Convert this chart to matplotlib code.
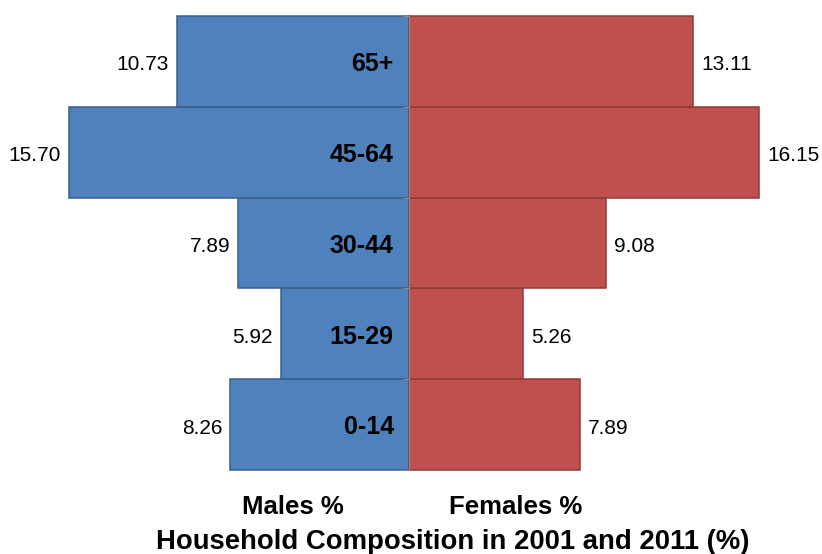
import matplotlib.pyplot as plt
import numpy as np

plt.rcParams['font.family'] = ['Liberation Sans', 'DejaVu Sans']

# data (bottom to top)
ages = ['0-14', '15-29', '30-44', '45-64', '65+']
males = [8.26, 5.92, 7.89, 15.70, 10.73]
females = [7.89, 5.26, 9.08, 16.15, 13.11]

blue = '#4F81BD'
red = '#C0504D'

fig = plt.figure(figsize=(8.22, 5.54), dpi=100)
ax = fig.add_axes([0, 0, 1, 1])

y = np.arange(len(ages))
m = -np.array(males)
f = np.array(females)

ax.barh(y, m, height=1.0, color=blue, edgecolor='#3A5F8C', linewidth=1.1)
ax.barh(y, f, height=1.0, color=red, edgecolor='#8E3B38', linewidth=1.1)

for i in range(len(ages)):
    ax.annotate('%.2f' % males[i], (m[i], y[i]), xytext=(-5.5, -2.5),
                textcoords='offset points', ha='right', va='center',
                fontsize=15)
    ax.annotate('%.2f' % females[i], (f[i], y[i]), xytext=(6, -2.5),
                textcoords='offset points', ha='left', va='center',
                fontsize=15)
    ax.annotate(ages[i], (0, y[i]), xytext=(-11, -2),
                textcoords='offset points', ha='right', va='center',
                fontsize=18, fontweight='bold')

# grey centre axis with small ticks at category boundaries
ax.spines['left'].set_position(('data', 0))
ax.spines['left'].set_color('#8C8C8C')
for s in ['right', 'top', 'bottom']:
    ax.spines[s].set_visible(False)
ax.set_yticks(np.arange(-0.5, len(ages), 1.0))
ax.set_yticklabels([])
ax.tick_params(axis='y', direction='out', length=4, color='#8C8C8C')
ax.set_xticks([])
ax.spines['left'].set_bounds(-0.5, len(ages) - 0.5)

ax.set_xlim(-18.88, 19.07)
ax.set_ylim(-1.425, 4.676)

fig.text(293 / 822, 1 - 507 / 554, 'Males %', ha='center', va='center',
         fontsize=18.5, fontweight='bold')
fig.text(516 / 822, 1 - 507 / 554, 'Females %', ha='center', va='center',
         fontsize=18.5, fontweight='bold')
fig.text(453 / 822, 1 - 542 / 554, 'Household Composition in 2001 and 2011 (%)',
         ha='center', va='center', fontsize=19.8, fontweight='bold')

fig.savefig('out.png', dpi=100)
